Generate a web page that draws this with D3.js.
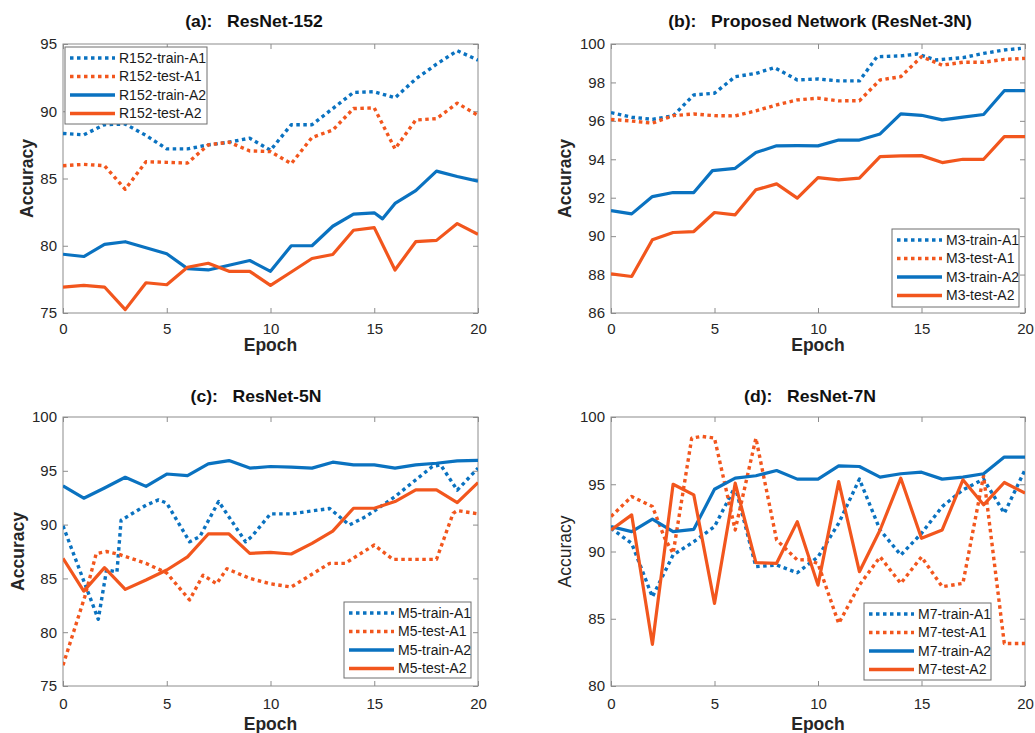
<!DOCTYPE html>
<html>
<head>
<meta charset="utf-8">
<script src="https://cdn.jsdelivr.net/npm/d3@7"></script>
<style>
  body { margin: 0; background: #fff; }
  svg { font-family: 'Liberation Sans', Arial, sans-serif; }
  .tick text { fill: #262626; font-size: 15px; }
  .tick line { stroke: #8c8c8c; }
</style>
</head>
<body>
<div id="chart"></div>
<script>
// epochs on the x axis
const xTicks = [0, 5, 10, 15, 20]

// (a) ResNet-152
const r152Names = ['R152-train-A1', 'R152-test-A1', 'R152-train-A2', 'R152-test-A2']
const r152TrainA1 = [[0,88.35],[1,88.25],[2,89.0],[3,89.05],[4,88.2],[5,87.2],[6,87.2],[7,87.5],[8,87.7],[9,88.0],[10,87.1],[11,89.0],[12,89.0],[13,90.2],[14,91.4],[15,91.45],[16,91.0],[17,92.4],[18,93.5],[19,94.5],[20,93.8]]
const r152TestA1 = [[0,85.95],[1,86.05],[2,85.95],[3,84.2],[4,86.25],[5,86.2],[6,86.15],[7,87.5],[8,87.7],[9,87.05],[10,87.0],[11,86.1],[12,88.05],[13,88.6],[14,90.2],[15,90.25],[16,87.2],[17,89.35],[18,89.45],[19,90.6],[20,89.7]]
const r152TrainA2 = [[0,79.37],[1,79.2],[2,80.1],[3,80.3],[4,79.85],[5,79.4],[6,78.3],[7,78.2],[8,78.55],[9,78.9],[10,78.1],[11,80.0],[12,80.0],[13,81.45],[14,82.35],[15,82.45],[15.4,82.0],[16,83.15],[17,84.1],[18,85.55],[19,85.15],[20,84.8]]
const r152TestA2 = [[0,76.93],[1,77.05],[2,76.93],[3,75.25],[4,77.25],[5,77.1],[6,78.4],[7,78.7],[8,78.1],[9,78.1],[10,77.05],[11,78.05],[12,79.05],[13,79.35],[14,81.15],[15,81.35],[16,78.2],[17,80.3],[18,80.4],[19,81.65],[20,80.85]]
const yTicksA = [75, 80, 85, 90, 95]

// (b) Proposed Network (ResNet-3N)
const m3Names = ['M3-train-A1', 'M3-test-A1', 'M3-train-A2', 'M3-test-A2']
const m3TrainA1 = [[0,96.43],[1,96.19],[2,96.08],[3,96.26],[4,97.35],[5,97.44],[6,98.3],[7,98.47],[7.9,98.77],[9,98.13],[10,98.18],[11,98.08],[12,98.08],[12.85,99.34],[14,99.38],[14.8,99.48],[15.7,99.17],[17,99.29],[18,99.51],[19,99.69],[19.8,99.77]]
const m3TestA1 = [[0,96.08],[1,95.99],[2,95.88],[3,96.27],[4,96.36],[5,96.27],[6,96.26],[7,96.52],[8,96.83],[9,97.09],[10,97.18],[11,97.04],[12,97.05],[13,98.13],[14,98.3],[15,99.34],[16,98.9],[17,99.05],[18,99.05],[19,99.2],[20,99.25]]
const m3TrainA2 = [[0,91.33],[1,91.16],[2,92.06],[3,92.27],[4,92.27],[4.9,93.41],[6,93.53],[7,94.35],[8,94.7],[9,94.71],[10,94.7],[11,95.0],[12,95.0],[13,95.32],[14,96.36],[15,96.29],[16,96.05],[17,96.19],[18,96.33],[19,97.57],[20,97.57]]
const m3TestA2 = [[0,88.04],[1,87.9],[2,89.81],[3,90.19],[4,90.24],[5,91.23],[6,91.11],[7,92.41],[8,92.72],[9,91.98],[10,93.05],[11,92.93],[12,93.02],[13,94.14],[14,94.18],[15,94.19],[16,93.83],[17,94.0],[18,94.0],[19,95.18],[20,95.18]]
const yTicksB = [86, 88, 90, 92, 94, 96, 98, 100]

// (c) ResNet-5N
const m5Names = ['M5-train-A1', 'M5-test-A1', 'M5-train-A2', 'M5-test-A2']
const m5TrainA1 = [[0,89.88],[1.7,81.2],[2.1,85.8],[2.6,85.6],[2.8,90.4],[4,91.8],[4.6,92.3],[5,92.0],[6.1,88.4],[6.6,88.9],[7.5,92.15],[8.8,88.4],[9.1,88.9],[10,91.0],[11,91.0],[12.85,91.5],[13.8,89.97],[14.6,90.75],[16,92.6],[17.8,95.4],[18.2,95.55],[19,93.2],[20,95.25]]
const m5TestA1 = [[0,76.93],[1.05,83.3],[1.6,87.3],[2.1,87.5],[2.75,87.2],[4,86.4],[5,85.5],[6.1,83.0],[6.75,85.3],[7.4,84.5],[7.9,85.9],[9,85.0],[10,84.5],[11,84.2],[12.85,86.4],[13.6,86.4],[15,88.1],[15.9,86.77],[18,86.77],[18.8,91.05],[19,91.3],[20,91.0]]
const m5TrainA2 = [[0,93.6],[1,92.45],[2,93.4],[3,94.4],[4,93.55],[5,94.7],[6,94.55],[7,95.65],[8,95.95],[9,95.25],[10,95.4],[11,95.35],[12,95.25],[13,95.8],[14,95.55],[15,95.55],[16,95.25],[17,95.55],[18,95.7],[19,95.93],[20,95.96]]
const m5TestA2 = [[0,86.86],[1,83.82],[2,86.0],[3,83.98],[4,84.85],[5,85.78],[6,87.0],[7,89.13],[8,89.13],[9,87.33],[10,87.42],[11,87.27],[12,88.26],[13,89.4],[14,91.52],[15,91.52],[16,92.14],[17,93.23],[18,93.23],[19,92.05],[20,93.91]]
const yTicksC = [75, 80, 85, 90, 95, 100]

// (d) ResNet-7N
const m7Names = ['M7-train-A1', 'M7-test-A1', 'M7-train-A2', 'M7-test-A2']
const m7TrainA1 = [[0,91.73],[1,90.6],[2,86.63],[3,89.74],[4,90.73],[5,91.85],[6,94.83],[7,88.87],[8,89.0],[9,88.42],[10,89.6],[11,92.1],[12,95.38],[13,91.6],[14,89.74],[15,91.35],[16,93.34],[17,94.58],[18,95.38],[19,92.84],[20,96.07]]
const m7TestA1 = [[0,92.6],[1,94.09],[2,93.34],[2.6,90.98],[3,89.86],[3.9,98.43],[4.4,98.56],[5,98.43],[6,91.6],[7,98.43],[8,90.86],[9,89.37],[9.5,89.4],[10,89.1],[11,84.65],[12,87.5],[13,89.6],[14,87.63],[15,89.6],[16,87.38],[17,87.63],[18,95.63],[19,83.16],[20,83.16]]
const m7TrainA2 = [[0,91.85],[1,91.48],[2,92.4],[3,91.48],[4,91.65],[5,94.63],[6,95.45],[7,95.63],[8,96.02],[9,95.38],[10,95.38],[11,96.37],[12,96.32],[13,95.53],[14,95.78],[15,95.9],[16,95.38],[17,95.53],[18,95.78],[19,97.02],[20,97.02]]
const m7TestA2 = [[0,91.6],[1,92.72],[2,83.1],[3,95.0],[4,94.21],[5,86.14],[6,95.08],[7,89.17],[8,89.12],[9,92.22],[10,87.5],[11,95.2],[12,88.5],[13,91.6],[14,95.45],[15,90.98],[16,91.6],[17,95.33],[18,93.47],[19,95.13],[20,94.34]]
const yTicksD = [80, 85, 90, 95, 100]

const blue = '#0a72c0'
const orange = '#f2561d'
const seriesColors = [blue, orange, blue, orange]
const seriesDotted = [true, true, false, false]

const panels = [
  { title: '(a):   ResNet-152', titleX: 254, titleY: 27, names: r152Names,
    series: [r152TrainA1, r152TestA1, r152TrainA2, r152TestA2], yTicks: yTicksA,
    left: 63, right: 478, top: 44, bottom: 313, accX: 27, accBold: true,
    tickPad: 10, epochY: 351,
    legend: { x: 65, y: 47, w: 142, h: 77 } },
  { title: '(b):   Proposed Network (ResNet-3N)', titleX: 820, titleY: 27, names: m3Names,
    series: [m3TrainA1, m3TestA1, m3TrainA2, m3TestA2], yTicks: yTicksB,
    left: 611, right: 1025, top: 44, bottom: 313, accX: 565, accBold: true,
    tickPad: 10, epochY: 351,
    legend: { x: 892, y: 229, w: 127, h: 78 } },
  { title: '(c):   ResNet-5N', titleX: 256, titleY: 402, names: m5Names,
    series: [m5TrainA1, m5TestA1, m5TrainA2, m5TestA2], yTicks: yTicksC,
    left: 63, right: 478, top: 417, bottom: 686, accX: 18, accBold: true,
    tickPad: 12, epochY: 730,
    legend: { x: 344, y: 602, w: 127, h: 76 } },
  { title: '(d):   ResNet-7N', titleX: 810, titleY: 402, names: m7Names,
    series: [m7TrainA1, m7TestA1, m7TrainA2, m7TestA2], yTicks: yTicksD,
    left: 611, right: 1025, top: 417, bottom: 686, accX: 565, accBold: false,
    tickPad: 12, epochY: 730,
    legend: { x: 864, y: 603, w: 127, h: 77 } }
]

const svg = d3
  .select('#chart')
  .append('svg')
  .attr('width', 1035)
  .attr('height', 733)

panels.forEach(function(p, i) {
  const xPositionScale = d3.scaleLinear().domain([0, 20]).range([p.left, p.right])
  const yPositionScale = d3
    .scaleLinear()
    .domain(d3.extent(p.yTicks))
    .range([p.bottom, p.top])

  const g = svg.append('g')

  // axes with ticks pointing inward (matlab style)
  g.append('g')
    .attr('transform', 'translate(0,' + p.bottom + ')')
    .call(d3.axisBottom(xPositionScale).tickValues(xTicks).tickSizeInner(-5).tickSizeOuter(0).tickPadding(p.tickPad))
  g.append('g')
    .attr('transform', 'translate(0,' + p.top + ')')
    .call(d3.axisTop(xPositionScale).tickValues(xTicks).tickSizeInner(-5).tickSizeOuter(0).tickFormat(''))
  g.append('g')
    .attr('transform', 'translate(' + p.left + ',0)')
    .call(d3.axisLeft(yPositionScale).tickValues(p.yTicks).tickSizeInner(-5).tickSizeOuter(0).tickPadding(6))
  g.append('g')
    .attr('transform', 'translate(' + p.right + ',0)')
    .call(d3.axisRight(yPositionScale).tickValues(p.yTicks).tickSizeInner(-5).tickSizeOuter(0).tickFormat(''))
  g.selectAll('.domain').remove()

  g.append('rect')
    .attr('x', p.left)
    .attr('y', p.top)
    .attr('width', p.right - p.left)
    .attr('height', p.bottom - p.top)
    .attr('fill', 'none')
    .attr('stroke', '#8c8c8c')
    .attr('stroke-width', 1)

  g.append('clipPath')
    .attr('id', 'clip' + i)
    .append('rect')
    .attr('x', p.left)
    .attr('y', p.top)
    .attr('width', p.right - p.left)
    .attr('height', p.bottom - p.top)

  const line = d3
    .line()
    .x(d => xPositionScale(d[0]))
    .y(d => yPositionScale(d[1]))

  g.append('g')
    .attr('clip-path', 'url(#clip' + i + ')')
    .selectAll('path')
    .data(p.series)
    .enter()
    .append('path')
    .attr('d', line)
    .attr('fill', 'none')
    .attr('stroke', (d, j) => seriesColors[j])
    .attr('stroke-width', (d, j) => (seriesDotted[j] ? 3.4 : 3.2))
    .attr('stroke-dasharray', (d, j) => (seriesDotted[j] ? '3.5,3.5' : null))
    .attr('stroke-linejoin', 'round')

  // legend
  const lg = g.append('g').attr('transform', 'translate(' + p.legend.x + ',' + p.legend.y + ')')
  lg.append('rect')
    .attr('width', p.legend.w)
    .attr('height', p.legend.h)
    .attr('fill', '#fff')
    .attr('stroke', '#6e6e6e')
    .attr('stroke-width', 1)
  p.names.forEach(function(name, j) {
    const y = 11 + j * 18.5
    lg.append('line')
      .attr('x1', 5)
      .attr('x2', 50)
      .attr('y1', y)
      .attr('y2', y)
      .attr('stroke', seriesColors[j])
      .attr('stroke-width', 3.4)
      .attr('stroke-dasharray', seriesDotted[j] ? '3.5,3.5' : null)
    lg.append('text')
      .attr('x', 54)
      .attr('y', y)
      .attr('dy', '0.35em')
      .text(name)
      .style('font-size', '14px')
      .style('fill', '#1a1a1a')
  })

  // title (slightly stretched like the source figure)
  g.append('text')
    .attr('transform', 'translate(' + p.titleX + ',' + p.titleY + ') scale(1.1,1)')
    .attr('text-anchor', 'middle')
    .style('white-space', 'pre')
    .style('font-size', '16px')
    .style('font-weight', 'bold')
    .style('fill', '#111')
    .text(p.title)

  g.append('text')
    .attr('x', (p.left + p.right) / 2)
    .attr('y', p.epochY)
    .attr('text-anchor', 'middle')
    .style('font-size', '17.5px')
    .style('font-weight', 'bold')
    .style('fill', '#262626')
    .text('Epoch')

  g.append('text')
    .attr('transform', 'translate(' + p.accX + ',' + (p.top + p.bottom) / 2 + ') rotate(-90)')
    .attr('dy', '0.35em')
    .attr('text-anchor', 'middle')
    .style('font-size', '17.5px')
    .style('font-weight', p.accBold ? 'bold' : 'normal')
    .style('fill', '#262626')
    .text('Accuracy')
})
</script>
</body>
</html>
